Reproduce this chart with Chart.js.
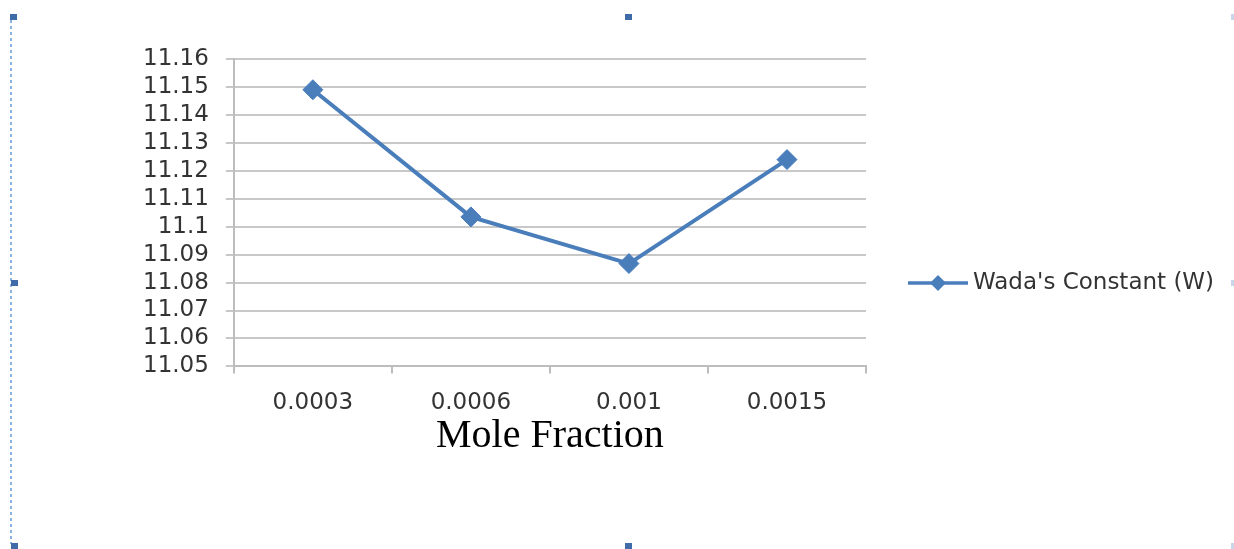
<!DOCTYPE html>
<html>
<head>
<meta charset="utf-8">
<title>Wada's Constant</title>
<script src="https://cdn.jsdelivr.net/npm/chart.js@4"></script>
<style>
  html, body { margin: 0; padding: 0; background: #fff; }
  #wrap { width: 1234px; height: 549px; position: relative; }
</style>
</head>
<body>
<div id="wrap"><canvas id="myChart"></canvas></div>
<script>
// values
const moleFractions = ['0.0003', '0.0006', '0.001', '0.0015'];
const wadaConstant = [11.149, 11.1035, 11.0868, 11.124];
const seriesName = "Wada's Constant (W)";
const yMin = 11.05;
const yMax = 11.16;
const yStep = 0.01;

const blue = '#4a7ebb';

// legend drawn by hand: the built-in one gets squeezed to a quarter of the width
const sideLegend = {
  id: 'sideLegend',
  afterDraw(chart) {
    const c = chart.ctx;
    const area = chart.chartArea;
    const ds = chart.data.datasets[0];
    const x0 = area.right + 42;
    const y = 283;
    c.save();
    c.strokeStyle = ds.borderColor;
    c.lineWidth = 3.5;
    c.beginPath();
    c.moveTo(x0, y);
    c.lineTo(x0 + 60, y);
    c.stroke();
    c.fillStyle = ds.borderColor;
    c.beginPath();
    c.moveTo(x0 + 30, y - 8);
    c.lineTo(x0 + 38, y);
    c.lineTo(x0 + 30, y + 8);
    c.lineTo(x0 + 22, y);
    c.closePath();
    c.fill();
    c.fillStyle = '#333';
    c.font = '23px "DejaVu Sans"';
    c.textBaseline = 'middle';
    c.fillText(ds.label, x0 + 65, y);
    c.restore();
  }
};

// selection frame bits around the chart object (dotted edge + handles)
const frameDecor = {
  id: 'frameDecor',
  afterDraw(chart) {
    const c = chart.ctx;
    c.save();
    c.strokeStyle = '#8db3e2';
    c.lineWidth = 2;
    c.setLineDash([3, 3]);
    c.beginPath();
    c.moveTo(11, 20);
    c.lineTo(11, 544);
    c.stroke();
    c.setLineDash([]);
    c.fillStyle = '#3f6ca8';
    [[10, 14], [625, 14], [11, 280], [11, 543], [625, 543]].forEach(p => {
      c.fillRect(p[0], p[1], 7, 6);
    });
    c.fillStyle = '#c9d6ea';
    [[1231, 14], [1231, 280], [1231, 543]].forEach(p => {
      c.fillRect(p[0], p[1], 3, 6);
    });
    c.restore();
  }
};

const ctx = document.getElementById('myChart');
new Chart(ctx, {
  type: 'line',
  data: {
    labels: moleFractions,
    datasets: [{
      label: seriesName,
      data: wadaConstant,
      borderColor: blue,
      backgroundColor: blue,
      borderWidth: 4,
      lineTension: 0,
      pointStyle: 'rectRot',
      pointRadius: 10,
      pointHoverRadius: 10,
      pointBackgroundColor: blue,
      pointBorderColor: blue,
      pointBorderWidth: 1
    }]
  },
  options: {
    responsive: true,
    maintainAspectRatio: false,
    animation: false,
    layout: { padding: { left: 126, right: 368, top: 59, bottom: 42 } },
    plugins: {
      legend: { display: false },
      tooltip: { enabled: false }
    },
    scales: {
      x: {
        offset: true,
        grid: {
          offset: true,
          drawOnChartArea: false,
          drawTicks: true,
          tickLength: 7,
          color: '#bdbdbd',
          lineWidth: 2
        },
        border: { display: true, color: '#bdbdbd', width: 2 },
        ticks: {
          color: '#333',
          padding: 16,
          font: { family: '"DejaVu Sans"', size: 23 }
        },
        title: {
          display: true,
          text: 'Mole Fraction',
          color: '#000',
          padding: { top: -17, bottom: 51 },
          font: { family: '"Liberation Serif"', size: 40, lineHeight: 1 }
        }
      },
      y: {
        min: yMin,
        max: yMax,
        grid: {
          color: '#c8c8c8',
          lineWidth: 2,
          tickLength: 8
        },
        border: { display: true, color: '#bdbdbd', width: 2 },
        ticks: {
          stepSize: yStep,
          autoSkip: false,
          color: '#333',
          padding: 17,
          font: { family: '"DejaVu Sans"', size: 23 },
          callback: v => String(Number(v.toFixed(2)))
        }
      }
    }
  },
  plugins: [frameDecor, sideLegend]
});
</script>
</body>
</html>
